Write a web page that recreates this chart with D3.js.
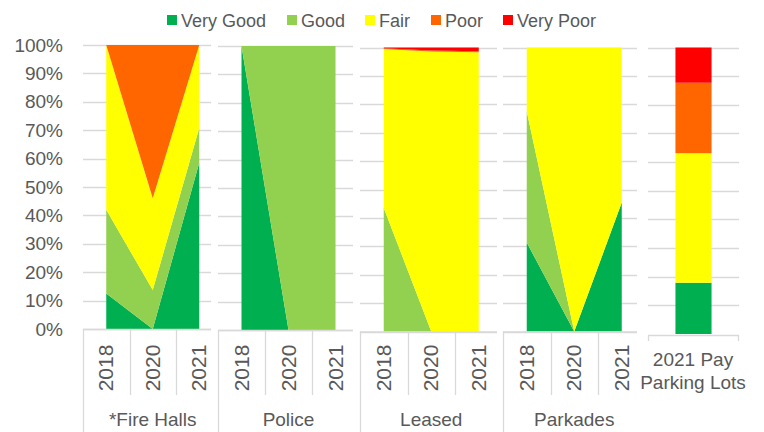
<!DOCTYPE html>
<html>
<head>
<meta charset="utf-8">
<script src="https://cdn.jsdelivr.net/npm/d3@7"></script>
<style>
  body { margin: 0; background: #fff; }
  text { font-family: "Liberation Sans", Arial, sans-serif; fill: #595959; }
</style>
</head>
<body>
<script>
// condition categories and colours
var conditions = ["Very Good", "Good", "Fair", "Poor", "Very Poor"];
var colors = ["#00b050", "#92d050", "#ffff00", "#ff6600", "#ff0000"];

var years = ["2018", "2020", "2021"];
var groups = ["*Fire Halls", "Police", "Leased", "Parkades"];

// percent of portfolio by year, in order of conditions
var fireHalls = [[12.5, 29.5, 58.0, 0, 0], [0, 13.7, 32.3, 54.0, 0], [58.5, 12.3, 29.2, 0, 0]];
var police    = [[100, 0, 0, 0, 0], [0, 100, 0, 0, 0], [0, 100, 0, 0, 0]];
var leased    = [[0, 43.5, 56.0, 0.2, 0.3], [0, 0, 98.6, 0.3, 1.1], [0, 0, 98.3, 0.4, 1.3]];
var parkades  = [[31.3, 46.2, 22.5, 0, 0], [0, 0, 100, 0, 0], [45.4, 0, 54.6, 0, 0]];

var payParkingLabel = ["2021 Pay", "Parking Lots"];
var payParking = [17.9, 0, 45.2, 24.6, 12.3];

var yTicks = [0, 0.1, 0.2, 0.3, 0.4, 0.5, 0.6, 0.7, 0.8, 0.9, 1];

// each excel chart sits in its own box
var panels = [
  { data: fireHalls, left: 83,  step: 46.5, gridRight: 211, y0: 329,   y1: 45 },
  { data: police,    left: 218, step: 47,   gridRight: 353, y0: 330,   y1: 46 },
  { data: leased,    left: 360, step: 47.5, gridRight: 497, y0: 331.5, y1: 47.5 },
  { data: parkades,  left: 503, step: 47.5, gridRight: 637, y0: 331.5, y1: 47.5 }
];

var width = 764, height = 432;
var svg = d3.select("body").append("svg")
  .attr("width", width)
  .attr("height", height);

var color = d3.scaleOrdinal().domain(conditions).range(colors);
var stack = d3.stack().keys(d3.range(conditions.length));

panels.forEach(function (p, i) {
  var x = d3.scaleBand().domain(years).range([p.left, p.left + 3 * p.step]);
  var xc = d3.scalePoint().domain(years).range([p.left, p.left + 3 * p.step]).padding(0.5);
  var y = d3.scaleLinear().domain([0, 1]).range([p.y0, p.y1]);
  var g = svg.append("g");

  g.selectAll(".grid").data(yTicks).enter().append("line")
    .attr("x1", p.left).attr("x2", p.gridRight)
    .attr("y1", function (d) { return Math.round(y(d)) + 0.5; })
    .attr("y2", function (d) { return Math.round(y(d)) + 0.5; })
    .attr("stroke", "#d9d9d9").attr("stroke-width", 1.3);

  var rows = p.data.map(function (r) { return r.map(function (v) { return v / 100; }); });
  var series = stack(rows);
  var area = d3.area()
    .x(function (d, j) { return xc(years[j]); })
    .y0(function (d) { return y(d[0]); })
    .y1(function (d) { return y(d[1]); });

  g.selectAll(".area").data(series).enter().append("path")
    .attr("d", area)
    .attr("fill", function (s) { return color(conditions[s.key]); });

  // category axis box
  var ax = g.append("g").attr("stroke", "#d9d9d9").attr("stroke-width", 1.3);
  ax.append("line").attr("x1", p.left).attr("x2", p.gridRight)
    .attr("y1", p.y0 + 0.5).attr("y2", p.y0 + 0.5);
  ax.append("line").attr("x1", p.left + 0.5).attr("x2", p.left + 0.5)
    .attr("y1", p.y0).attr("y2", height);
  ax.selectAll(".sep").data(years.slice(1)).enter().append("line")
    .attr("x1", function (d) { return Math.round(x(d)) + 0.5; })
    .attr("x2", function (d) { return Math.round(x(d)) + 0.5; })
    .attr("y1", p.y0).attr("y2", 395);

  g.selectAll(".yr").data(years).enter().append("text")
    .attr("transform", function (d) { return "translate(" + (xc(d) + 7) + ",368) rotate(-90)"; })
    .attr("text-anchor", "middle")
    .style("font-size", "21px")
    .text(function (d) { return d; });

  g.append("text")
    .attr("x", p.left + 1.5 * p.step).attr("y", 426)
    .attr("text-anchor", "middle")
    .style("font-size", "19px")
    .text(groups[i]);

  if (i === 0) {
    var yAxis = d3.axisLeft(y).tickValues(yTicks).tickSize(0).tickPadding(20)
      .tickFormat(d3.format(".0%"));
    var ya = svg.append("g").attr("transform", "translate(" + p.left + ",0)").call(yAxis);
    ya.select(".domain").remove();
    ya.selectAll("text")
      .style("font-family", "'Liberation Sans', Arial, sans-serif")
      .style("font-size", "19px").attr("fill", "#595959");
  }
});

// single stacked bar for pay parking lots
var payY = d3.scaleLinear().domain([0, 1]).range([334, 47.5]);
var payX = d3.scaleBand().domain(["2021"]).range([648, 739]).paddingInner(0).paddingOuter(0.76);
var pg = svg.append("g");
pg.selectAll(".grid").data(yTicks.slice(1)).enter().append("line")
  .attr("x1", 648).attr("x2", 739)
  .attr("y1", function (d) { return Math.round(payY(d)) + 0.5; })
  .attr("y2", function (d) { return Math.round(payY(d)) + 0.5; })
  .attr("stroke", "#d9d9d9").attr("stroke-width", 1.3);

var paySeries = stack([payParking.map(function (v) { return v / 100; })]);
pg.selectAll(".bar").data(paySeries).enter().append("rect")
  .attr("x", payX("2021"))
  .attr("width", payX.bandwidth())
  .attr("y", function (s) { return payY(s[0][1]); })
  .attr("height", function (s) { return payY(s[0][0]) - payY(s[0][1]); })
  .attr("fill", function (s) { return color(conditions[s.key]); });

var pax = pg.append("g").attr("stroke", "#d9d9d9").attr("stroke-width", 1.3);
pax.append("line").attr("x1", 648).attr("x2", 739).attr("y1", 335.5).attr("y2", 335.5);
pax.append("line").attr("x1", 648.5).attr("x2", 648.5).attr("y1", 335).attr("y2", 341);
pax.append("line").attr("x1", 738.5).attr("x2", 738.5).attr("y1", 335).attr("y2", 341);

pg.selectAll(".lbl").data(payParkingLabel).enter().append("text")
  .attr("x", 693)
  .attr("y", function (d, j) { return 366 + j * 23; })
  .attr("text-anchor", "middle")
  .style("font-size", "19px")
  .text(function (d) { return d; });

// legend
var legendX = [167, 287, 365, 431, 503];
var legend = svg.append("g").selectAll("g").data(conditions).enter().append("g")
  .attr("transform", function (d, j) { return "translate(" + legendX[j] + ",15)"; });
legend.append("rect").attr("width", 10).attr("height", 10)
  .attr("fill", function (d) { return color(d); });
legend.append("text").attr("x", 14).attr("y", 11.5)
  .style("font-size", "18px")
  .text(function (d) { return d; });
</script>
</body>
</html>
